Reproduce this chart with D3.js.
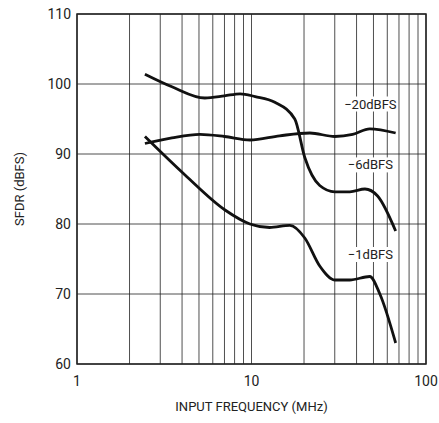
<!DOCTYPE html>
<html><head><meta charset="utf-8">
<script src="https://cdn.jsdelivr.net/npm/d3@7"></script>
<style>body{margin:0;background:#fff}text{font-family:Roboto,"Liberation Sans",sans-serif;fill:#222}</style>
</head><body>
<script>
// frequency (MHz), SFDR (dBFS)
var freqs6 = [2.45, 3.5, 5.4, 7, 8.6, 10.5, 13.6, 17.7, 20.2, 24.6, 30, 36.6, 44.7, 52.8, 67];
var sfdr6  = [101.4, 99.6, 98, 98.3, 98.6, 98.2, 97.4, 95, 89.5, 85.5, 84.6, 84.6, 85, 84, 79];
var freqs20 = [2.45, 3.5, 5.06, 7, 9.8, 14.5, 21.6, 30, 38, 47.6, 67];
var sfdr20  = [91.5, 92.3, 92.8, 92.5, 92, 92.6, 93, 92.5, 92.8, 93.6, 93];
var freqs1 = [2.45, 4.16, 7.05, 9.8, 12.7, 16.6, 20.2, 24.6, 30, 36.6, 47.6, 54.4, 67];
var sfdr1  = [92.5, 87, 82, 80, 79.5, 79.8, 78, 74, 72, 72, 72.5, 70, 63];
var labels = [{t:'\u221220dBFS', f:48, v:96.5}, {t:'\u22126dBFS', f:48, v:87.8}, {t:'\u22121dBFS', f:48, v:75}];
var yTicks = [60, 70, 80, 90, 100, 110];
var xTicks = [1, 10, 100];

var W = 439, H = 423, m = {l:77, r:13, t:14, b:59};
var svg = d3.select('body').append('svg').attr('width', W).attr('height', H);
var x = d3.scaleLog().domain([1, 100]).range([m.l, W - m.r]);
var y = d3.scaleLinear().domain([60, 110]).range([H - m.b, m.t]);

var grid = svg.append('g').attr('stroke', '#222').attr('stroke-width', 0.8);
d3.range(1, 10).concat(d3.range(10, 101, 10)).forEach(function(f) {
  grid.append('line').attr('x1', x(f)).attr('x2', x(f)).attr('y1', y(60)).attr('y2', y(110));
});
yTicks.forEach(function(v) {
  grid.append('line').attr('x1', x(1)).attr('x2', x(100)).attr('y1', y(v)).attr('y2', y(v));
});
svg.append('rect').attr('x', x(1)).attr('y', y(110)).attr('width', x(100) - x(1)).attr('height', y(60) - y(110))
  .attr('fill', 'none').attr('stroke', '#222').attr('stroke-width', 1.5);

yTicks.forEach(function(v) {
  svg.append('text').attr('x', x(1) - 6).attr('y', y(v) + 5).attr('text-anchor', 'end').attr('font-size', 14).text(v);
});
xTicks.forEach(function(f) {
  svg.append('text').attr('x', x(f)).attr('y', y(60) + 22).attr('text-anchor', 'middle').attr('font-size', 14).text(f);
});
svg.append('text').attr('x', (x(1) + x(100)) / 2).attr('y', H - 12).attr('text-anchor', 'middle').attr('font-size', 13).text('INPUT FREQUENCY (MHz)');
svg.append('text').attr('transform', 'translate(24,' + ((y(60) + y(110)) / 2) + ') rotate(-90)').attr('text-anchor', 'middle').attr('font-size', 13).text('SFDR (dBFS)');

var line = d3.line().x(function(d) { return x(d[0]); }).y(function(d) { return y(d[1]); }).curve(d3.curveMonotoneX);
[[freqs6, sfdr6], [freqs20, sfdr20], [freqs1, sfdr1]].forEach(function(s) {
  svg.append('path').datum(d3.zip(s[0], s[1])).attr('d', line)
    .attr('fill', 'none').attr('stroke', '#111').attr('stroke-width', 2.8);
});

labels.forEach(function(l) {
  var t = svg.append('text').attr('x', x(l.f)).attr('y', y(l.v)).attr('text-anchor', 'middle').attr('font-size', 13).text(l.t);
  var b = t.node().getBBox();
  svg.insert('rect', 'text:last-of-type').attr('x', b.x - 1).attr('y', b.y).attr('width', b.width + 2).attr('height', b.height).attr('fill', '#fff');
});
</script>
</body></html>
